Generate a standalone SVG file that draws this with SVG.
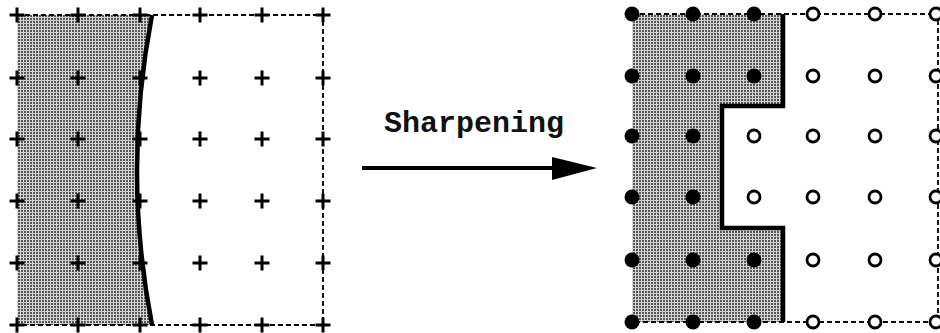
<svg xmlns="http://www.w3.org/2000/svg" width="940" height="333" viewBox="0 0 940 333">
<style>
.dash{fill:none;stroke:#000;stroke-width:1.8;stroke-dasharray:5,3}
.edge{fill:none;stroke:#000;stroke-width:4.5}
.open{fill:#fff;stroke:#000;stroke-width:2.8}
.full{fill:#000}
.lbl{font-family:"Liberation Mono","Courier New",monospace;font-size:30px;font-weight:bold;fill:#111}
</style>
<defs>
<pattern id="hatch" width="3" height="3" patternUnits="userSpaceOnUse">
<rect width="3" height="3" fill="#555"/>
<rect x="2" width="1" height="3" fill="#dcdcdc"/>
<rect y="2" width="3" height="1" fill="#cfcfcf"/>
</pattern>
<path id="plus" d="M-7.5,0H7.5M0,-7.5V7.5" stroke="#000" stroke-width="3" fill="none"/>
<circle id="dot" r="7.5" class="full"/>
<circle id="ring" r="6" class="open"/>
</defs>

<g id="left-panel">
<path d="M17,15H152Q122,170 152,325H17Z" fill="url(#hatch)"/>
<path class="dash" d="M17,15H323V325H17"/>
<path class="edge" d="M152,15Q122,170 152,325"/>
<g id="left-grid">
<use href="#plus" x="17" y="15"/><use href="#plus" x="78" y="15"/><use href="#plus" x="140" y="15"/><use href="#plus" x="200" y="15"/><use href="#plus" x="262" y="15"/><use href="#plus" x="323" y="15"/>
<use href="#plus" x="17" y="78"/><use href="#plus" x="78" y="78"/><use href="#plus" x="140" y="78"/><use href="#plus" x="200" y="78"/><use href="#plus" x="262" y="78"/><use href="#plus" x="323" y="78"/>
<use href="#plus" x="17" y="139"/><use href="#plus" x="78" y="139"/><use href="#plus" x="140" y="139"/><use href="#plus" x="200" y="139"/><use href="#plus" x="262" y="139"/><use href="#plus" x="323" y="139"/>
<use href="#plus" x="17" y="201"/><use href="#plus" x="78" y="201"/><use href="#plus" x="140" y="201"/><use href="#plus" x="200" y="201"/><use href="#plus" x="262" y="201"/><use href="#plus" x="323" y="201"/>
<use href="#plus" x="17" y="263"/><use href="#plus" x="78" y="263"/><use href="#plus" x="140" y="263"/><use href="#plus" x="200" y="263"/><use href="#plus" x="262" y="263"/><use href="#plus" x="323" y="263"/>
<use href="#plus" x="17" y="325"/><use href="#plus" x="78" y="325"/><use href="#plus" x="140" y="325"/><use href="#plus" x="200" y="325"/><use href="#plus" x="262" y="325"/><use href="#plus" x="323" y="325"/>
</g>
</g>

<g id="connectors">
<path d="M362,168H554" stroke="#000" stroke-width="4" fill="none"/>
<path d="M552,157L597,168L552,180Z" fill="#000"/>
</g>
<g id="label">
<text class="lbl" x="384" y="132">Sharpening</text>
</g>

<g id="right-panel">
<path d="M632,14H783V106H722V228H783V322H632Z" fill="url(#hatch)"/>
<path class="dash" d="M632,14H938V322H632"/>
<path class="edge" d="M783,14V106H722V228H783V322"/>
<g id="right-grid">
<use href="#dot" x="632" y="14"/><use href="#dot" x="693" y="14"/><use href="#dot" x="754" y="14"/><use href="#ring" x="813" y="14"/><use href="#ring" x="875" y="14"/><use href="#ring" x="936" y="14"/>
<use href="#dot" x="632" y="76"/><use href="#dot" x="693" y="76"/><use href="#dot" x="754" y="76"/><use href="#ring" x="813" y="76"/><use href="#ring" x="875" y="76"/><use href="#ring" x="936" y="76"/>
<use href="#dot" x="632" y="136"/><use href="#dot" x="693" y="136"/><use href="#ring" x="754" y="136"/><use href="#ring" x="813" y="136"/><use href="#ring" x="875" y="136"/><use href="#ring" x="936" y="136"/>
<use href="#dot" x="632" y="197"/><use href="#dot" x="693" y="197"/><use href="#ring" x="754" y="197"/><use href="#ring" x="813" y="197"/><use href="#ring" x="875" y="197"/><use href="#ring" x="936" y="197"/>
<use href="#dot" x="632" y="260"/><use href="#dot" x="693" y="260"/><use href="#dot" x="754" y="260"/><use href="#ring" x="813" y="260"/><use href="#ring" x="875" y="260"/><use href="#ring" x="936" y="260"/>
<use href="#dot" x="632" y="322"/><use href="#dot" x="693" y="322"/><use href="#dot" x="754" y="322"/><use href="#ring" x="813" y="322"/><use href="#ring" x="875" y="322"/><use href="#ring" x="936" y="322"/>
</g>
</g>
</svg>
